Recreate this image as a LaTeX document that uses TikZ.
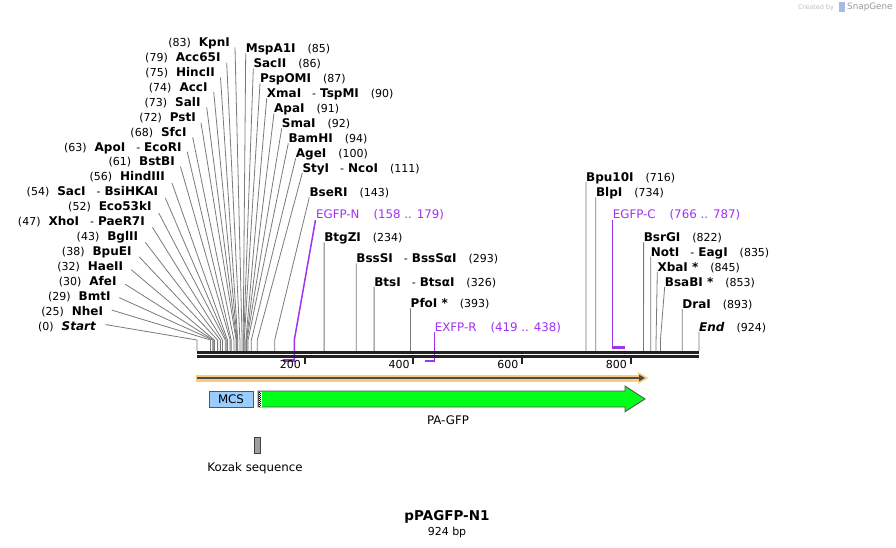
\documentclass[tikz,border=0pt]{standalone}
\usepackage{fontspec}
\setmainfont{DejaVu Sans}
\usetikzlibrary{calc,arrows.meta}
\definecolor{enzgray}{HTML}{7A7A7A}
\definecolor{primerc}{RGB}{160,50,240}
\definecolor{basec}{HTML}{222222}
\definecolor{orangec}{RGB}{250,205,125}
\definecolor{mcsblue}{RGB}{153,204,255}
\definecolor{gfpgreen}{RGB}{0,255,25}
\definecolor{kozakgray}{RGB}{155,160,166}
\definecolor{outlinec}{HTML}{555555}
\newcommand{\enz}[1]{{\fontsize{12}{14}\selectfont\bfseries #1}}
\newcommand{\enzit}[1]{{\fontsize{12}{14}\selectfont\bfseries\itshape #1}}
\newcommand{\enznum}[1]{{\fontsize{11}{13}\selectfont (#1)}}
\newcommand{\enzdash}{\hspace{11pt}{\fontsize{11}{13}\selectfont -}\hspace{4pt}}
\newcommand{\lft}[2]{\enznum{#1}\hspace{8pt}#2}
\newcommand{\rgt}[2]{#2\hspace{12pt}\enznum{#1}}
\tikzset{
  lbl/.style={inner sep=0pt, text height=8.8pt, text depth=0pt},
  enzline/.style={draw=enzgray, line width=0.8pt},
  primerline/.style={draw=primerc, line width=1.5pt},
  primerbar/.style={draw=primerc, line width=2.4pt},
  flbl/.style={inner sep=0pt, text height=8.8pt, text depth=0pt, font=\fontsize{11.8}{14}\selectfont},
  plbl/.style={flbl, text=primerc},
}
\begin{document}
\begin{tikzpicture}[x=1pt,y=-1pt]
\useasboundingbox (0,0) rectangle (896,548);
\fill[white] (0,0) rectangle (896,548);

% watermark
\node[inner sep=0pt, anchor=west, text=black!25, font=\fontsize{6.5}{8}\selectfont] (wm1) at (798,7.5) {Created by};
\fill[cyan!45!blue!35] (839,2.5) rectangle (844.5,12.5);
\node[inner sep=0pt, anchor=west, text=black!40, font=\fontsize{8.8}{10}\selectfont] (wm2) at (847,7.5) {SnapGene};

% left enzyme labels
\foreach \i/\p/\ex/\ox/\oy/\txt in {
 0/83/230/5/5.5/{\lft{83}{\enz{KpnI}}},
 1/79/220.7/6/6/{\lft{79}{\enz{Acc65I}}},
 2/75/215/5.5/5.6/{\lft{75}{\enz{HincII}}},
 3/74/207.7/6/5/{\lft{74}{\enz{AccI}}},
 4/73/200.7/6/5.6/{\lft{73}{\enz{SalI}}},
 5/72/196/5/6/{\lft{72}{\enz{PstI}}},
 6/68/186.7/6/5.6/{\lft{68}{\enz{SfcI}}},
 7/63/181.7/5.5/5/{\lft{63}{\enz{ApoI}\enzdash\enz{EcoRI}}},
 8/61/175/5.5/5/{\lft{61}{\enz{BstBI}}},
 9/56/165/7/6.5/{\lft{56}{\enz{HindIII}}},
 10/54/158.3/7/6.5/{\lft{54}{\enz{SacI}\enzdash\enz{BsiHKAI}}},
 11/52/151.7/7/6.5/{\lft{52}{\enz{Eco53kI}}},
 12/47/145/7.5/6/{\lft{47}{\enz{XhoI}\enzdash\enz{PaeR7I}}},
 13/43/138.3/7/6/{\lft{43}{\enz{BglII}}},
 14/38/131.7/7.5/5.5/{\lft{38}{\enz{BpuEI}}},
 15/32/123.3/8/3.5/{\lft{32}{\enz{HaeII}}},
 16/30/116.7/8.5/3/{\lft{30}{\enz{AfeI}}},
 17/29/110.7/8.5/1.5/{\lft{29}{\enz{BmtI}}},
 18/25/103.3/8.5/-1/{\lft{25}{\enz{NheI}}},
 19/0/96/9.5/-1.5/{\lft{0}{\enzit{Start}}}}{
  \node[lbl, anchor=east] (L\i) at ({\ex},{42+14.95*\i}) {\txt};
  \coordinate (La\i) at ($(L\i.east)+(\ox,\oy)$);
  \coordinate (Lb\i) at ({197+\p*0.54329},340);
  \coordinate (Lc\i) at ({197+\p*0.54329},351);
  \draw[enzline] (La\i) -- (Lb\i) -- (Lc\i);
}

% right enzyme labels
\foreach \k/\p/\x/\y/\txt in {
 0/85/245.7/48.5/{\rgt{85}{\enz{MspA1I}}},
 1/86/253.3/63.4/{\rgt{86}{\enz{SacII}}},
 2/87/260/78.3/{\rgt{87}{\enz{PspOMI}}},
 3/90/266.7/93.3/{\rgt{90}{\enz{XmaI}\enzdash\enz{TspMI}}},
 4/91/274/108.4/{\rgt{91}{\enz{ApaI}}},
 5/92/281.7/123.4/{\rgt{92}{\enz{SmaI}}},
 6/94/288.3/138.3/{\rgt{94}{\enz{BamHI}}},
 7/100/295.7/153.3/{\rgt{100}{\enz{AgeI}}},
 8/111/302.3/168/{\rgt{111}{\enz{StyI}\enzdash\enz{NcoI}}},
 9/143/309.3/192.3/{\rgt{143}{\enz{BseRI}}},
 10/234/324.1/237.3/{\rgt{234}{\enz{BtgZI}}},
 11/293/356.2/258.3/{\rgt{293}{\enz{BssSI}\enzdash\enz{BssSαI}}},
 12/326/374.1/281.7/{\rgt{326}{\enz{BtsI}\enzdash\enz{BtsαI}}},
 13/393/410.5/303.3/{\rgt{393}{\enz{PfoI *}}},
 14/716/586/176.7/{\rgt{716}{\enz{Bpu10I}}},
 15/734/595.8/192.3/{\rgt{734}{\enz{BlpI}}},
 16/822/643.6/237.3/{\rgt{822}{\enz{BsrGI}}},
 17/835/650.7/251.7/{\rgt{835}{\enz{NotI}\enzdash\enz{EagI}}},
 18/845/657.3/266.7/{\rgt{845}{\enz{XbaI *}}},
 19/853/664.7/281.7/{\rgt{853}{\enz{BsaBI *}}},
 20/893/682.2/304/{\rgt{893}{\enz{DraI}}},
 21/924/699/326.7/{\rgt{924}{\enzit{End}}}}{
  \node[lbl, anchor=west] (R\k) at ({\x},{\y}) {\txt};
  \coordinate (Ra\k) at ($(R\k.west)+(0,5)$);
  \coordinate (Rb\k) at ({197+\p*0.54329},340);
  \coordinate (Rc\k) at ({197+\p*0.54329},351);
  \draw[enzline] (Ra\k) -- (Rb\k) -- (Rc\k);
}

% primers
\node[plbl, anchor=west] (P1) at (316,214) {EGFP-N\hspace{14pt}(158 .. 179)};
\coordinate (P1a) at ($(P1.west)+(-0.5,6)$);
\coordinate (P1b) at (294.3,340);
\coordinate (P1c) at (294.3,360.5);
\coordinate (P1d) at (282.8,360.5);
\draw[primerline] (P1a) -- (P1b) -- (P1c);
\draw[primerbar] (P1d) -- ($(P1c)+(0.7,0)$);

\node[plbl, anchor=west] (P2) at (434.7,326.7) {EXFP-R\hspace{14pt}(419 .. 438)};
\coordinate (P2a) at ($(P2.west)+(0,5.5)$);
\coordinate (P2c) at (434.7,361);
\coordinate (P2d) at (424.6,361);
\draw[primerline] (P2a) -- (P2c);
\draw[primerbar] (P2d) -- ($(P2c)+(0.7,0)$);

\node[plbl, anchor=west] (P3) at (612.7,214) {EGFP-C\hspace{14pt}(766 .. 787)};
\coordinate (P3a) at ($(P3.west)+(0,6)$);
\coordinate (P3c) at (612.7,347.5);
\coordinate (P3d) at (624.6,347.5);
\draw[primerline] (P3a) -- (P3c);
\draw[primerbar] ($(P3c)+(-0.7,0)$) -- (P3d);

% sequence baseline
\coordinate (s0) at (197,352.3);
\coordinate (s1) at (699,352.3);
\coordinate (t0) at (197,356.6);
\coordinate (t1) at (699,356.6);
\draw[basec, line width=2.7pt] (s0) -- (s1);
\draw[basec, line width=2.3pt] (t0) -- (t1);

% ticks
\foreach \t in {200,400,600,800}{
  \coordinate (T\t) at ({197+\t*0.54329-1},357);
  \draw[basec, line width=1.8pt] (T\t) -- ++(0,6.5);
  \node[inner sep=0pt, anchor=east, font=\fontsize{11}{13}\selectfont] (TL\t) at ($(T\t)+(-3.5,7.5)$) {\t};
}

% orange direction arrow
\coordinate (oa) at (196,378);
\coordinate (ob) at (640,378);
\draw[orangec, line width=7pt] (oa) -- (ob);
\fill[orangec] (638,372) -- (648.5,378) -- (638,384) -- cycle;
\draw[black!70, line width=1.6pt, -{Triangle[length=6pt,width=6.5pt]}] (197,378) -- (645,378);

% MCS
\node[draw=outlinec, fill=mcsblue, line width=0.9pt, minimum width=44pt, minimum height=16pt, inner sep=0pt, font=\fontsize{11.8}{14}\selectfont] (mcs) at (231,399) {MCS};

% PA-GFP arrow
\draw[draw=outlinec, fill=gfpgreen, line width=0.9pt] (258,391) -- (625,391) -- (625,386) -- (645,399) -- (625,411.7) -- (625,407) -- (258,407) -- cycle;
\fill[white] (258.6,391.5) rectangle (261.6,406.5);
\draw[black, line width=1pt, dash pattern=on 1pt off 1pt] (259.3,391.5) -- (259.3,406.5);
\draw[black, line width=1pt, dash pattern=on 1pt off 1pt, dash phase=1pt] (260.6,391.5) -- (260.6,406.5);
\draw[outlinec, line width=0.9pt] (258,391) -- (258,407);
\node[flbl, anchor=center] (gfp) at (448,420) {PA-GFP};

% Kozak
\node[draw=black!75, fill=kozakgray, line width=0.8pt, minimum width=6pt, minimum height=16pt, inner sep=0pt] (koz) at (257,445) {};
\node[flbl, anchor=center] (kozl) at (255,467) {Kozak sequence};

% title
\node[inner sep=0pt, font=\fontsize{13.5}{16}\selectfont\bfseries] (title) at (447,517) {pPAGFP-N1};
\node[inner sep=0pt, font=\fontsize{11}{13}\selectfont] (bp) at (447,532) {924 bp};
\end{tikzpicture}
\end{document}
